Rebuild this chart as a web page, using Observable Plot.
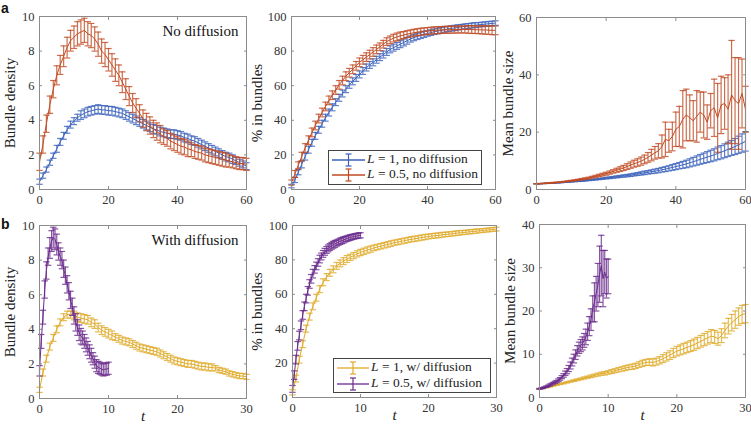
<!DOCTYPE html>
<html><head><meta charset="utf-8">
<script src="https://cdn.jsdelivr.net/npm/d3@7"></script>
<script src="https://cdn.jsdelivr.net/npm/@observablehq/plot@0.6"></script>
<style>
body{margin:0;background:#fff;}
#fig{position:relative;width:751px;height:426px;font-family:"Liberation Serif",serif;overflow:hidden;}
.pn{position:absolute;}
.tag{position:absolute;font-family:"Liberation Sans",Arial,sans-serif;font-weight:bold;font-size:14px;line-height:14px;color:#111;}
.legend{position:absolute;border:1px solid #444;background:#fff;font-size:13.5px;color:#222;box-sizing:border-box;}
.row{position:absolute;left:0;height:16px;white-space:nowrap;}
.row svg{position:absolute;left:0;top:0;}
.row span{position:absolute;top:-1px;line-height:16px;}
</style></head><body><div id="fig"></div><script>
// ---------- time grids ----------
const tTop = [0,1,2,3,4,5,6,7,8,9,10,11,12,13,14,15,16,17,18,19,20,21,22,23,24,25,26,27,28,29,30,31,32,33,34,35,36,37,38,39,40,41,42,43,44,45,46,47,48,49,50,51,52,53,54,55,56,57,58,59,60];
const tHalf = [0,0.5,1,1.5,2,2.5,3,3.5,4,4.5,5,5.5,6,6.5,7,7.5,8,8.5,9,9.5,10,10.5,11,11.5,12,12.5,13,13.5,14,14.5,15,15.5,16,16.5,17,17.5,18,18.5,19,19.5,20,20.5,21,21.5,22,22.5,23,23.5,24,24.5,25,25.5,26,26.5,27,27.5,28,28.5,29,29.5,30];
const tQuarter = [0,0.25,0.5,0.75,1,1.25,1.5,1.75,2,2.25,2.5,2.75,3,3.25,3.5,3.75,4,4.25,4.5,4.75,5,5.25,5.5,5.75,6,6.25,6.5,6.75,7,7.25,7.5,7.75,8,8.25,8.5,8.75,9,9.25,9.5,9.75,10];

// ---------- panel a: bundle density ----------
const bdBlue = [0.45,0.8,1.15,1.55,1.95,2.35,2.75,3.1,3.45,3.75, 3.95,4.15,4.3,4.4,4.5,4.55,4.6,4.65,4.6,4.6, 4.55,4.55,4.5,4.45,4.4,4.3,4.2,4.1,4.0,3.9, 3.8,3.7,3.6,3.5,3.45,3.35,3.3,3.25,3.2,3.2, 3.15,3.1,3.0,2.95,2.85,2.8,2.7,2.6,2.5,2.4, 2.3,2.2,2.1,2.0,1.9,1.85,1.75,1.65,1.55,1.45,1.35];
const bdBlueErr = [0.15,0.15,0.15,0.15,0.15,0.2,0.2,0.2,0.2,0.2, 0.2,0.2,0.25,0.25,0.25,0.25,0.25,0.25,0.25,0.25, 0.25,0.25,0.25,0.25,0.25,0.25,0.25,0.25,0.25,0.25, 0.25,0.25,0.25,0.25,0.25,0.25,0.25,0.25,0.25,0.25, 0.25,0.25,0.25,0.25,0.25,0.25,0.25,0.25,0.25,0.25, 0.25,0.25,0.25,0.25,0.25,0.25,0.25,0.2,0.2,0.2,0.2];
const bdRed = [1.6,2.6,3.8,4.9,5.8,6.6,7.2,7.7,8.2,8.6, 8.8,9.0,9.1,9.2,9.0,8.9,8.7,8.4,8.0,7.8, 7.5,7.2,6.9,6.6,6.2,5.8,5.4,5.0,4.7,4.4, 4.1,3.9,3.7,3.5,3.35,3.2,3.05,2.95,2.8,2.7, 2.6,2.5,2.45,2.35,2.3,2.2,2.15,2.1,2.0,1.95, 1.9,1.85,1.8,1.75,1.7,1.65,1.6,1.55,1.5,1.5,1.45];
const bdRedErr = [0.5,0.5,0.5,0.5,0.5,0.55,0.55,0.6,0.6,0.6, 0.65,0.7,0.7,0.7,0.7,0.7,0.7,0.7,0.7,0.7, 0.65,0.65,0.65,0.6,0.6,0.6,0.55,0.55,0.55,0.5, 0.5,0.5,0.5,0.5,0.5,0.5,0.45,0.45,0.45,0.45, 0.45,0.45,0.45,0.45,0.4,0.4,0.4,0.4,0.4,0.4, 0.4,0.4,0.4,0.4,0.4,0.35,0.35,0.35,0.35,0.35,0.35];

// ---------- panel a: % in bundles ----------
const pbBlue = [2,5.5,10,14.5,19,23,27,31,34.5,38, 41.5,44.5,47.5,50.5,53,55.5,58,60.5,62.5,64.5, 66.5,68.5,70.5,72,73.5,75,76.5,78,79.5,81, 82,83,84,85,86,87,87.8,88.5,89.1,89.7, 90.2,90.7,91.2,91.6,92,92.4,92.8,93.1,93.4,93.7, 94,94.3,94.5,94.8,95,95.2,95.4,95.6,95.8,96,96.2];
const pbBlueErr = [1,1.5,1.5,2,2,2,2,2,2,2, 2,2,2,2,2,2,2,2,2,2, 2,2,2,2,2,2,2,2,2,2, 2,2,2,2,2,1.8,1.8,1.8,1.8,1.8, 1.6,1.6,1.6,1.6,1.6,1.5,1.5,1.5,1.5,1.5, 1.4,1.4,1.4,1.4,1.4,1.3,1.3,1.3,1.3,1.3,1.3];
const pbRed = [4,9,14,19,24,28.5,33,37,41,44.5, 48,51.5,54.5,57.5,60.5,63,65.5,67.5,69.5,71.5, 73.5,75,76.5,78,79.5,81,82.5,84,85.5,86.5, 87.5,88.2,88.8,89.3,89.8,90.2,90.6,90.9,91.2,91.4, 91.6,91.8,92,92.1,92.2,92.3,92.3,92.4,92.4,92.5, 92.5,92.5,92.5,92.4,92.4,92.3,92.3,92.2,92.1,92,92];
const pbRedErr = [1.5,2,2,2.5,2.5,2.5,2.5,2.5,2.5,2.5, 2.5,2.5,2.5,2.5,2.5,2.5,2.5,2.5,2.5,2.5, 2.5,2.5,2.5,2.5,2.5,2.5,2.2,2.2,2.2,2.2, 2.2,2.2,2.2,2,2,2,2,2,2,2, 2,2,2,2,2,2,2,2,2,2, 2,2,2.2,2.2,2.2,2.2,2.4,2.4,2.4,2.5,2.5];

// ---------- panel a: mean bundle size ----------
const mbBlue = [2,2.05,2.1,2.15,2.2,2.3,2.35,2.4,2.5,2.6, 2.7,2.8,2.9,3.0,3.1,3.25,3.4,3.5,3.65,3.8, 3.95,4.1,4.25,4.4,4.55,4.7,4.85,5.0,5.2,5.4, 5.6,5.8,6.0,6.2,6.4,6.6,6.9,7.1,7.4,7.7, 8.0,8.3,8.6,8.9,9.3,9.7,10.1,10.5,10.9,11.3, 11.7,12.1,12.6,13.0,13.5,14.0,14.5,15.0,15.6,16.2,16.8];
const mbBlueErr = [0.05,0.05,0.05,0.05,0.05,0.05,0.05,0.05,0.05,0.05, 0.1,0.1,0.1,0.15,0.15,0.15,0.2,0.2,0.2,0.25, 0.25,0.3,0.3,0.35,0.35,0.4,0.4,0.45,0.45,0.5, 0.55,0.6,0.6,0.65,0.7,0.75,0.8,0.85,0.9,1.0, 1.05,1.1,1.2,1.3,1.4,1.5,1.6,1.7,1.8,1.9, 2.0,2.1,2.2,2.3,2.4,2.5,2.6,2.8,3.0,3.2,3.4];
const mbRed = [2,2.05,2.1,2.2,2.3,2.4,2.5,2.6,2.75,2.9, 3.05,3.2,3.4,3.6,3.8,4.0,4.3,4.6,4.9,5.2, 5.5,5.9,6.3,6.7,7.1,7.5,8.0,8.5,9.0,9.4, 9.9,10.5,11.2,12.0,12.8,13.5,15.0,17.5,17.0,18.5, 21.0,22.0,24.5,26.0,25.0,24.0,25.5,27.0,26.0,23.5, 27.5,28.5,25.0,29.5,30.0,28.0,33.0,31.0,30.0,33.5,28.0];
const mbRedErr = [0.05,0.05,0.05,0.05,0.1,0.1,0.1,0.1,0.1,0.15, 0.15,0.2,0.2,0.25,0.25,0.3,0.3,0.35,0.4,0.45, 0.5,0.55,0.6,0.7,0.8,0.9,1.0,1.1,1.2,1.3, 1.4,1.5,1.7,2.0,2.2,2.5,4.0,6.0,4.0,5.0, 6.0,7.0,10.0,9.0,8.0,7.0,9.0,7.0,8.0,6.0, 6.0,10.0,12.0,10.0,9.0,12.0,19.0,15.0,16.0,12.0,8.0];

// ---------- panel b: bundle density ----------
const bd2Yel = [0.5,1.5,2.3,3.0,3.5,4.0,4.4,4.7,4.85,4.85, 4.8,4.7,4.65,4.6,4.55,4.4,4.3,4.1,3.95,3.85, 3.75,3.65,3.55,3.45,3.35,3.3,3.25,3.15,3.05,2.95, 2.9,2.85,2.8,2.75,2.7,2.6,2.5,2.4,2.3,2.2, 2.15,2.1,2.05,2.0,2.0,1.95,1.9,1.85,1.85,1.8, 1.8,1.75,1.65,1.6,1.55,1.45,1.4,1.35,1.3,1.3,1.25];
const bd2YelErr = [0.15,0.2,0.2,0.2,0.2,0.2,0.2,0.2,0.2,0.2, 0.25,0.25,0.25,0.25,0.25,0.25,0.25,0.25,0.25,0.25, 0.25,0.25,0.2,0.2,0.2,0.2,0.2,0.2,0.2,0.2, 0.2,0.2,0.2,0.2,0.2,0.2,0.2,0.2,0.2,0.2, 0.2,0.2,0.2,0.2,0.2,0.2,0.2,0.2,0.2,0.2, 0.2,0.15,0.15,0.15,0.15,0.15,0.15,0.15,0.15,0.15,0.15];
const bd2Pur = [1.6,3.3,4.7,6.3,7.4,8.2,8.7,9.1,9.3,9.2, 8.9,8.5,8.2,8.0,7.5,7.1,6.6,6.2,5.7,5.3, 4.8,4.4,4.1,3.8,3.6,3.5,3.3,3.1,2.9,2.7, 2.5,2.3,2.1,1.9,1.8,1.75,1.7,1.65,1.7,1.7, 1.75];
const bd2PurErr = [0.3,0.4,0.4,0.5,0.5,0.5,0.6,0.6,0.6,0.6, 0.6,0.5,0.5,0.5,0.5,0.5,0.5,0.5,0.5,0.5, 0.5,0.5,0.45,0.45,0.45,0.4,0.4,0.4,0.4,0.4, 0.4,0.35,0.35,0.35,0.35,0.35,0.35,0.35,0.35,0.35, 0.35];

// ---------- panel b: % in bundles ----------
const pb2Yel = [3,11,22,31,40,47,53,58,63,67, 70,72.5,74.5,76.5,78,79.3,80.5,81.5,82.5,83.5, 84.3,85,85.7,86.3,87,87.5,88,88.5,89,89.5, 90,90.4,90.8,91.2,91.6,92,92.3,92.6,93,93.3, 93.6,93.9,94.1,94.3,94.6,94.8,95,95.2,95.5,95.7, 95.9,96.1,96.3,96.5,96.7,96.9,97.1,97.3,97.5,97.7,97.9];
const pb2YelErr = [1.5,2,2,2,2,2,2,2,2,2, 2,2,2,2,2,2,2,1.8,1.8,1.8, 1.8,1.8,1.8,1.8,1.6,1.6,1.6,1.6,1.6,1.6, 1.5,1.5,1.5,1.5,1.5,1.5,1.5,1.5,1.5,1.5, 1.4,1.4,1.4,1.4,1.4,1.3,1.3,1.3,1.3,1.3, 1.2,1.2,1.2,1.2,1.2,1.1,1.1,1.1,1.1,1.1,1.1];
const pb2Pur = [5,13,22,30,36,42,48,53,57.5,62, 66,69,72,74.5,76.5,78.5,80.5,82,83.5,84.7, 85.8,86.7,87.5,88.2,88.8,89.3,89.8,90.3,90.8,91.2, 91.6,92,92.4,92.7,93,93.3,93.6,93.8,94,94.2, 94.3];
const pb2PurErr = [2,2.5,2.5,2.5,2.5,2.5,2.5,2.5,2.5,2.5, 2.5,2.5,2.5,2.2,2.2,2.2,2.2,2,2,2, 2,2,2,2,2,2,1.8,1.8,1.8,1.8, 1.8,1.6,1.6,1.6,1.6,1.5,1.5,1.5,1.5,1.5, 1.5];

// ---------- panel b: mean bundle size ----------
const mb2Yel = [2,2.1,2.3,2.5,2.7,2.9,3.1,3.3,3.5,3.7, 3.9,4.1,4.3,4.5,4.7,4.9,5.1,5.3,5.5,5.6, 5.8,6.0,6.2,6.4,6.6,6.8,7.0,7.1,7.3,7.6, 7.9,8.1,8.2,8.1,8.3,8.6,9.0,9.4,9.8,10.3, 10.7,11.0,11.3,11.6,11.9,12.2,12.6,13.0,13.4,13.8, 14.2,14.0,13.6,14.3,15.5,16.5,17.3,18.0,18.7,19.2,19.4];
const mb2YelErr = [0.05,0.05,0.05,0.1,0.1,0.1,0.1,0.15,0.15,0.15, 0.2,0.2,0.2,0.25,0.25,0.3,0.3,0.35,0.35,0.4, 0.4,0.45,0.45,0.5,0.5,0.55,0.55,0.6,0.6,0.65, 0.7,0.7,0.75,0.8,0.8,0.85,0.9,0.95,1.0,1.05, 1.1,1.15,1.2,1.2,1.25,1.3,1.3,1.35,1.4,1.45, 1.5,1.5,1.5,1.6,1.7,1.8,1.9,2.0,2.0,2.1,2.1];
const mb2Pur = [2,2.1,2.2,2.4,2.5,2.7,2.9,3.1,3.3,3.5, 3.7,4.0,4.3,4.7,5.1,5.6,6.1,6.7,7.4,8.2, 9.0,9.9,10.8,11.5,12.0,12.5,13.2,14.0,15.2,16.5, 18.0,20.5,22.0,24.0,26.0,28.5,30.5,27.5,29.0,27.5, 28.0];
const mb2PurErr = [0.1,0.1,0.1,0.1,0.15,0.15,0.2,0.2,0.2,0.25, 0.25,0.3,0.3,0.35,0.4,0.5,0.6,0.7,0.8,0.9, 1.0,1.1,1.2,1.3,1.4,1.5,1.6,1.8,2.0,2.2, 2.5,3.0,4.5,4.0,5.0,6.5,7.0,6.5,5.0,4.5, 4.0];

// ---------- ticks, labels, colours ----------
const xTicksTop = [0,20,40,60];
const xTicksBot = [0,10,20,30];
const yTicksDensity = [0,2,4,6,8,10];
const yTicksPct = [0,20,40,60,80,100];
const yTicksSizeTop = [0,20,40,60];
const yTicksSizeBot = [0,10,20,30,40];
const yLabels = ["Bundle density","% in bundles","Mean bundle size"];
const notes = ["No diffusion","With diffusion"];
const legendTop = ["1, no diffusion","0.5, no diffusion"];
const legendBot = ["1, w/ diffusion","0.5, w/ diffusion"];
const C = {blue:"#3b62bb", red:"#c04a22", yellow:"#dfaa28", purple:"#6a2b8c"};
const frameColor = "#8c8c8c";

const hline = {draw(ctx, size){ const r = Math.sqrt(size/Math.PI); ctx.moveTo(-r,0); ctx.lineTo(r,0); }};

function rows(t, v, e){ return t.map((x,i)=>({t:x, v:v[i], lo:v[i]-e[i], hi:v[i]+e[i]})); }

function seriesMarks(data, color){
  return [
    Plot.ruleX(data, {x:"t", y1:"lo", y2:"hi", stroke:color, strokeWidth:1.2, strokeOpacity:0.8}),
    Plot.dot(data, {x:"t", y:"lo", symbol:hline, r:3.2, stroke:color, strokeWidth:1.2, strokeOpacity:0.8, fill:"none"}),
    Plot.dot(data, {x:"t", y:"hi", symbol:hline, r:3.2, stroke:color, strokeWidth:1.2, strokeOpacity:0.8, fill:"none"}),
    Plot.line(data, {x:"t", y:"v", stroke:color, strokeWidth:1})
  ];
}

function panel(p){
  const marks = [
    Plot.axisX({ticks:p.xt, tickSize:0, tickPadding:6, fill:"#333", label:null, tickFormat:d=>String(d)}),
    Plot.axisX({ticks:p.xt, anchor:"bottom", tickSize:-3, stroke:frameColor, fill:"none", label:null}),
    Plot.axisX({ticks:p.xt, anchor:"top", tickSize:-3, stroke:frameColor, fill:"none", label:null}),
    Plot.axisY({ticks:p.yt, tickSize:0, tickPadding:5, fill:"#333", label:null, tickFormat:d=>String(d)}),
    Plot.axisY({ticks:p.yt, anchor:"left", tickSize:-3, stroke:frameColor, fill:"none", label:null}),
    Plot.axisY({ticks:p.yt, anchor:"right", tickSize:-3, stroke:frameColor, fill:"none", label:null}),
    ...p.series.flatMap(s => seriesMarks(rows(s.t, s.v, s.e), s.color)),
    Plot.frame({stroke:frameColor}),
    Plot.text([p.ylabel], {frameAnchor:"left", rotate:-90, dx:p.ydx, textAnchor:"middle", lineAnchor:"middle", fontSize:15, fill:"#222"})
  ];
  if (p.note) marks.push(Plot.text([p.note], {frameAnchor:"top-right", dx:-8, dy:15, lineAnchor:"middle", textAnchor:"end", fontSize:15, fill:"#111"}));
  if (p.xlabel) marks.push(Plot.text([p.xlabel], {frameAnchor:"bottom", dy:18, textAnchor:"middle", lineAnchor:"middle", fontSize:15, fontStyle:"italic", fill:"#222"}));
  const svg = Plot.plot({
    width:p.w, height:p.h,
    marginLeft:p.m[0], marginRight:p.m[1], marginTop:p.m[2], marginBottom:p.m[3],
    x:{domain:p.xd, label:null},
    y:{domain:p.yd, label:null},
    style:{fontFamily:"'Liberation Serif', serif", fontSize:"12.5px", background:"transparent", overflow:"visible"},
    marks
  });
  const div = document.createElement("div");
  div.className = "pn";
  div.style.left = p.left + "px"; div.style.top = p.top + "px";
  div.appendChild(svg);
  document.getElementById("fig").appendChild(div);
}

panel({left:0, top:0, w:250, h:210, m:[39,4,16,21], xd:[0,60], xt:xTicksTop, yd:[0,10], yt:yTicksDensity, ylabel:yLabels[0], ydx:-29, note:notes[0],
  series:[{t:tTop, v:bdBlue, e:bdBlueErr, color:C.blue},{t:tTop, v:bdRed, e:bdRedErr, color:C.red}]});
panel({left:250, top:0, w:250, h:210, m:[41,5,16,21], xd:[0,60], xt:xTicksTop, yd:[0,100], yt:yTicksPct, ylabel:yLabels[1], ydx:-34,
  series:[{t:tTop, v:pbBlue, e:pbBlueErr, color:C.blue},{t:tTop, v:pbRed, e:pbRedErr, color:C.red}]});
panel({left:500, top:0, w:251, h:210, m:[36,6,17,21], xd:[0,60], xt:xTicksTop, yd:[0,60], yt:yTicksSizeTop, ylabel:yLabels[2], ydx:-28,
  series:[{t:tTop, v:mbBlue, e:mbBlueErr, color:C.blue},{t:tTop, v:mbRed, e:mbRedErr, color:C.red}]});
panel({left:0, top:210, w:250, h:216, m:[39,4,15,28], xd:[0,30], xt:xTicksBot, yd:[0,10], yt:yTicksDensity, ylabel:yLabels[0], ydx:-29, note:notes[1], xlabel:"t",
  series:[{t:tHalf, v:bd2Yel, e:bd2YelErr, color:C.yellow},{t:tQuarter, v:bd2Pur, e:bd2PurErr, color:C.purple}]});
panel({left:250, top:210, w:250, h:216, m:[42,4,15,29], xd:[0,30], xt:xTicksBot, yd:[0,100], yt:yTicksPct, ylabel:yLabels[1], ydx:-35, xlabel:"t",
  series:[{t:tHalf, v:pb2Yel, e:pb2YelErr, color:C.yellow},{t:tQuarter, v:pb2Pur, e:pb2PurErr, color:C.purple}]});
panel({left:500, top:210, w:251, h:216, m:[39,6,14,29], xd:[0,30], xt:xTicksBot, yd:[0,40], yt:yTicksSizeBot, ylabel:yLabels[2], ydx:-29, xlabel:"t",
  series:[{t:tHalf, v:mb2Yel, e:mb2YelErr, color:C.yellow},{t:tQuarter, v:mb2Pur, e:mb2PurErr, color:C.purple}]});

// ---------- panel tags ----------
const fig = document.getElementById("fig");
function tag(txt, x, y){ const d=document.createElement("div"); d.className="tag"; d.textContent=txt; d.style.left=x+"px"; d.style.top=y+"px"; fig.appendChild(d); }
tag("a", 1, 1); tag("b", 1, 217);

// ---------- legends ----------
function legend(x, y, w, h, entries, colors, rowY, symX, textX){
  const box = document.createElement("div");
  box.className = "legend";
  Object.assign(box.style, {left:x+"px", top:y+"px", width:w+"px", height:h+"px"});
  entries.forEach((txt, i) => {
    const r = document.createElement("div");
    r.className = "row";
    r.style.top = (rowY[i]-8) + "px"; r.style.width = (w-2) + "px";
    const c = colors[i];
    const mid = (symX[0]+symX[1])/2;
    r.innerHTML = `<svg width="${symX[1]+2}" height="16"><line x1="${symX[0]}" x2="${symX[1]}" y1="8" y2="8" stroke="${c}" stroke-width="1.3"/>` +
      `<line x1="${mid}" x2="${mid}" y1="2" y2="14" stroke="${c}" stroke-width="1.2"/>` +
      `<line x1="${mid-3}" x2="${mid+3}" y1="2" y2="2" stroke="${c}" stroke-width="1.2"/>` +
      `<line x1="${mid-3}" x2="${mid+3}" y1="14" y2="14" stroke="${c}" stroke-width="1.2"/></svg>` +
      `<span style="left:${textX}px"><i>L</i> = ${txt}</span>`;
    box.appendChild(r);
  });
  fig.appendChild(box);
}
legend(328, 150, 154, 35, legendTop, [C.blue, C.red], [9, 24], [3, 36], 38);
legend(333, 358, 158, 35, legendBot, [C.yellow, C.purple], [9, 25], [3, 35], 37);
</script></body></html>
